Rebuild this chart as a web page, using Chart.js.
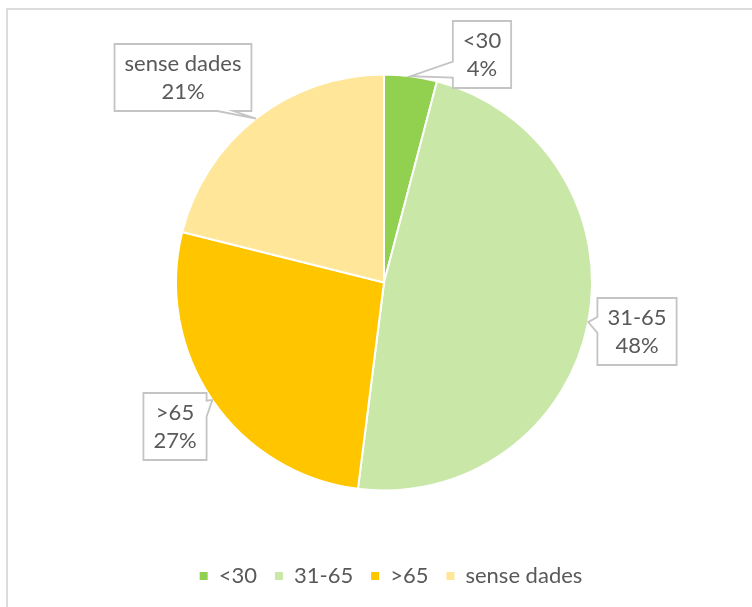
<!DOCTYPE html>
<html>
<head>
<meta charset="utf-8">
<script src="https://cdn.jsdelivr.net/npm/chart.js@4.4.1/dist/chart.umd.min.js"></script>
<style>
  html, body { margin: 0; padding: 0; background: #fff; overflow: hidden; }
  #frame { position: absolute; left: 6px; top: 8px; width: 800px; height: 700px; border: 2px solid #dcdcdc; box-sizing: border-box; }
  #wrap { position: absolute; left: 0; top: 0; width: 752px; height: 603px; }
</style>
</head>
<body>
<div id="frame"></div>
<div id="wrap"><canvas id="pie"></canvas></div>
<script>
const categories = ["<30", "31-65", ">65", "sense dades"];
const shares = [4.1, 47.9, 26.9, 21.1];
const sliceColors = ["#92d050", "#c9e7a7", "#ffc600", "#ffe699"];

// where each callout box sits, relative to the pie centre
const calloutOffsets = [[98, -228], [253, 49], [-209, 144], [-201, -205]];

const FONT = "22px Lato, 'Open Sans', sans-serif";
const TEXT_COLOR = "#595959";

const calloutPlugin = {
  id: "callouts",
  afterLayout(chart) {
    // nudge the legend a little to the right, like the original
    chart.legend.left += 7;
    chart.legend.right += 7;
  },
  afterDatasetsDraw(chart) {
    const ctx = chart.ctx;
    const meta = chart.getDatasetMeta(0);
    const total = shares.reduce((a, b) => a + b, 0);
    ctx.save();
    ctx.font = FONT;
    meta.data.forEach((arc, i) => {
      const p = arc.getProps(["x", "y", "startAngle", "endAngle", "outerRadius"], true);
      const mid = (p.startAngle + p.endAngle) / 2;
      const tx = p.x + Math.cos(mid) * p.outerRadius;
      const ty = p.y + Math.sin(mid) * p.outerRadius;
      const lines = [categories[i], Math.round(shares[i] / total * 100) + "%"];
      const w = Math.max(...lines.map(s => ctx.measureText(s).width)) + 20;
      const h = 67;
      const cx = p.x + calloutOffsets[i][0];
      const cy = p.y + calloutOffsets[i][1];
      const l = cx - w / 2, r = cx + w / 2, t = cy - h / 2, b = cy + h / 2;

      // which side the pointer comes out of
      let side;
      if (ty < t) side = 0;
      else if (ty > b) side = 2;
      else if (tx < l) side = 3;
      else side = 1;

      const hw = 8;
      const clamp = (v, lo, hi) => Math.min(Math.max(v, lo), hi);
      let c;
      if (side === 0 || side === 2) {
        const proj = clamp(tx, l + hw, r - hw);
        c = proj + (cx - proj) * 0.3;
      } else {
        const proj = clamp(ty, t + hw, b - hw);
        c = proj + (cy - proj) * 0.3;
      }

      const corners = [[l, t], [r, t], [r, b], [l, b]];
      let notch;
      if (side === 0) notch = [[c - hw, t], [tx, ty], [c + hw, t]];
      if (side === 1) notch = [[r, c - hw], [tx, ty], [r, c + hw]];
      if (side === 2) notch = [[c + hw, b], [tx, ty], [c - hw, b]];
      if (side === 3) notch = [[l, c + hw], [tx, ty], [l, c - hw]];

      const pts = [];
      corners.forEach((pt, k) => {
        pts.push(pt);
        if (k === side) pts.push(...notch);
      });

      ctx.beginPath();
      ctx.moveTo(pts[0][0], pts[0][1]);
      pts.slice(1).forEach(pt => ctx.lineTo(pt[0], pt[1]));
      ctx.closePath();
      ctx.fillStyle = "#fff";
      ctx.fill();
      ctx.lineWidth = 1.8;
      ctx.strokeStyle = "#c4c4c4";
      ctx.stroke();

      ctx.fillStyle = TEXT_COLOR;
      ctx.textAlign = "center";
      ctx.textBaseline = "middle";
      ctx.fillText(lines[0], cx, cy - 14);
      ctx.fillText(lines[1], cx, cy + 14);
    });
    ctx.restore();
  }
};

new Chart(document.getElementById("pie"), {
  type: "pie",
  data: {
    labels: categories,
    datasets: [{
      data: shares,
      backgroundColor: sliceColors,
      borderColor: "#fff",
      borderWidth: 2,
      hoverOffset: 0,
      radius: 208,
    }],
  },
  options: {
    responsive: true,
    maintainAspectRatio: false,
    animation: false,
    layout: {
      padding: { top: 18, bottom: 6, left: 20, right: 4 },
    },
    plugins: {
      tooltip: { enabled: false },
      legend: {
        position: "bottom",
        labels: {
          boxWidth: 8,
          boxHeight: 8,
          padding: 18,
          color: TEXT_COLOR,
          font: { family: "Lato, 'Open Sans', sans-serif", size: 22 },
          generateLabels(chart) {
            return Chart.overrides.pie.plugins.legend.labels.generateLabels(chart)
              .map(item => ({ ...item, lineWidth: 0, strokeStyle: item.fillStyle }));
          },
        },
      },
    },
  },
  plugins: [calloutPlugin],
});
</script>
</body>
</html>
